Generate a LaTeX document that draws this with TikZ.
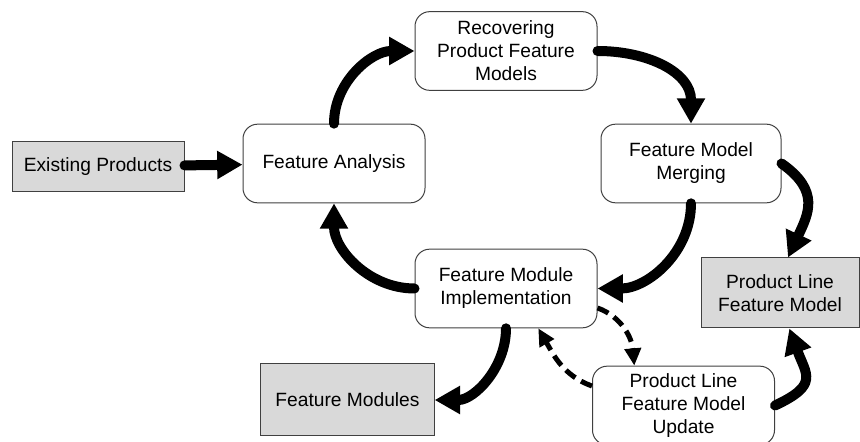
\documentclass[tikz,border=0pt]{standalone}
\usepackage{fontspec}
\setmainfont{Liberation Sans}
\usepackage{tikz}
\definecolor{lightgray}{RGB}{217,217,217}
\definecolor{frame}{RGB}{64,64,64}
\usetikzlibrary{positioning,arrows.meta}
\tikzset{%
  activity/.style={draw=frame, line width=0.75pt, rounded corners=11pt, fill=white,
    align=center, minimum width=136.5pt, minimum height=59pt,
    font={\fontsize{14.4}{17.3}\selectfont}},% process step
  artifact/.style={activity, rounded corners=0pt, fill=lightgray},% input / output
  flow/.style={line width=7.5pt, line cap=round,
    -{Triangle[width=20pt,length=19pt]}},% main cycle arrows
  update/.style={line width=3.75pt, dash pattern=on 9pt off 5pt,
    -{Triangle[width=12pt,length=13pt]}}% feedback arrows
}

\begin{document}
\begin{tikzpicture}[x=0.75pt, y=0.75pt]
\useasboundingbox (0, 0) rectangle (860, 442);

\node[artifact, minimum width=129pt, minimum height=38pt] (ep) at (98, 275.5) {Existing Products};
\node[activity] (fa) at (334, 278.5) {Feature Analysis};
\node[activity] (rec) at (506, 391) {Recovering\\Product Feature\\Models};
\node[activity, minimum width=135pt] (fmm) at (691, 278.5) {Feature Model\\Merging};
\node[activity] (fmi) at (506, 153.5) {Feature Module\\Implementation};
\node[artifact, minimum width=118.5pt, minimum height=52.5pt] (plfm) at (780, 149) {Product Line\\Feature Model};
\node[activity] (plfu) at (683.5, 36.5) {Product Line\\Feature Model\\Update};
\node[artifact, minimum width=130pt, minimum height=54pt] (fmods) at (347.5, 42) {Feature Modules};

\draw (ep) edge[flow] (fa);
\draw (fa) edge[flow, out=90, in=180] (rec);
\draw (rec) edge[flow, out=0, in=90, looseness=1.1] (fmm);
\draw (fmm) edge[flow, out=-90, in=0] (fmi);
\draw (fmi) edge[flow, out=180, in=-90] (fa);
\draw (fmi) edge[flow, out=-90, in=0] (fmods);

\draw (fmm.east) edge[flow, out=-35, in=65, looseness=1.3] ([xshift=6pt]plfm.north);
\draw (plfu.east) edge[flow, out=25, in=-70, looseness=1.6] ([xshift=7pt]plfm.south);

\draw (fmi.-12) edge[update, out=-20, in=95] (plfu.141);
\draw (plfu.168) edge[update, out=160, in=-60] (fmi.-51);

\end{tikzpicture}
\end{document}
